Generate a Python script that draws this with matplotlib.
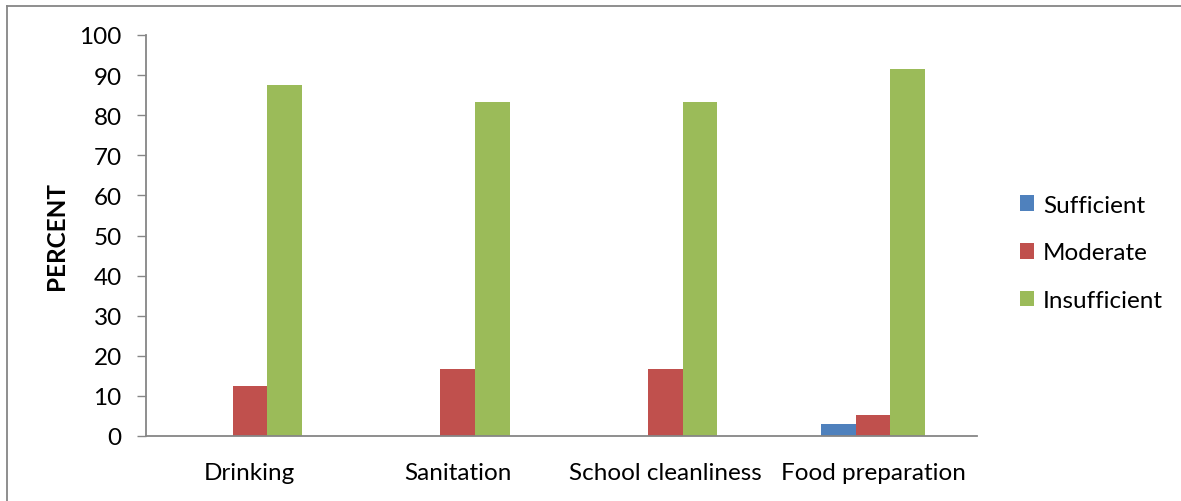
import matplotlib
matplotlib.use("Agg")
import matplotlib.pyplot as plt
from matplotlib.lines import Line2D
import numpy as np

categories = ["Drinking", "Sanitation", "School cleanliness", "Food preparation"]
series_names = ["Sufficient", "Moderate", "Insufficient"]
sufficient = [0, 0, 0, 3.1]
moderate = [12.5, 16.7, 16.7, 5.2]
insufficient = [87.5, 83.3, 83.3, 91.5]
yticks = [0, 10, 20, 30, 40, 50, 60, 70, 80, 90, 100]

colors = ["#4F81BD", "#C0504D", "#9BBB59"]
plt.rcParams['font.family'] = ['Lato', 'DejaVu Sans']
FS = 17.5

W, H = 1181, 502
fig = plt.figure(figsize=(W/100, H/100), dpi=100)
ax = fig.add_axes([146/W, 1-437/H, (977-146)/W, (437-36)/H])

x = np.arange(len(categories))
bw = 0.167
for i, (vals, name) in enumerate(zip([sufficient, moderate, insufficient], series_names)):
    ax.bar(x + (i-1)*bw, vals, width=bw, color=colors[i], label=name, linewidth=0)

ax.set_xlim(-0.5, 3.5)
ax.set_ylim(0, 100)
ax.set_yticks(yticks)
ax.set_yticklabels([str(t) for t in yticks], fontsize=FS)
ax.set_xticks(x)
ax.set_xticklabels(categories, fontsize=FS)
ax.tick_params(axis='x', length=0, pad=19)
ax.tick_params(axis='y', length=6.5, color='#868686', pad=11, width=1)
for s in ['top', 'right']:
    ax.spines[s].set_visible(False)
for s in ['left', 'bottom']:
    ax.spines[s].set_color('#868686')
    ax.spines[s].set_linewidth(1.3)
ax.set_ylabel("PERCENT", fontsize=FS, fontweight='bold', labelpad=8)

fig.legend(loc='center left', bbox_to_anchor=(1010/W, 1-254/H), frameon=False,
           fontsize=FS, handlelength=0.6, handleheight=0.6, handletextpad=0.35,
           labelspacing=1.1, borderaxespad=0)

# outer chart frame (top and left edges visible)
fig.add_artist(Line2D([7/W, 1], [1-7/H, 1-7/H], transform=fig.transFigure, color='#868686', lw=1.3))
fig.add_artist(Line2D([7/W, 7/W], [0, 1-7/H], transform=fig.transFigure, color='#868686', lw=1.3))

fig.savefig("out.png", dpi=100, facecolor='white')
